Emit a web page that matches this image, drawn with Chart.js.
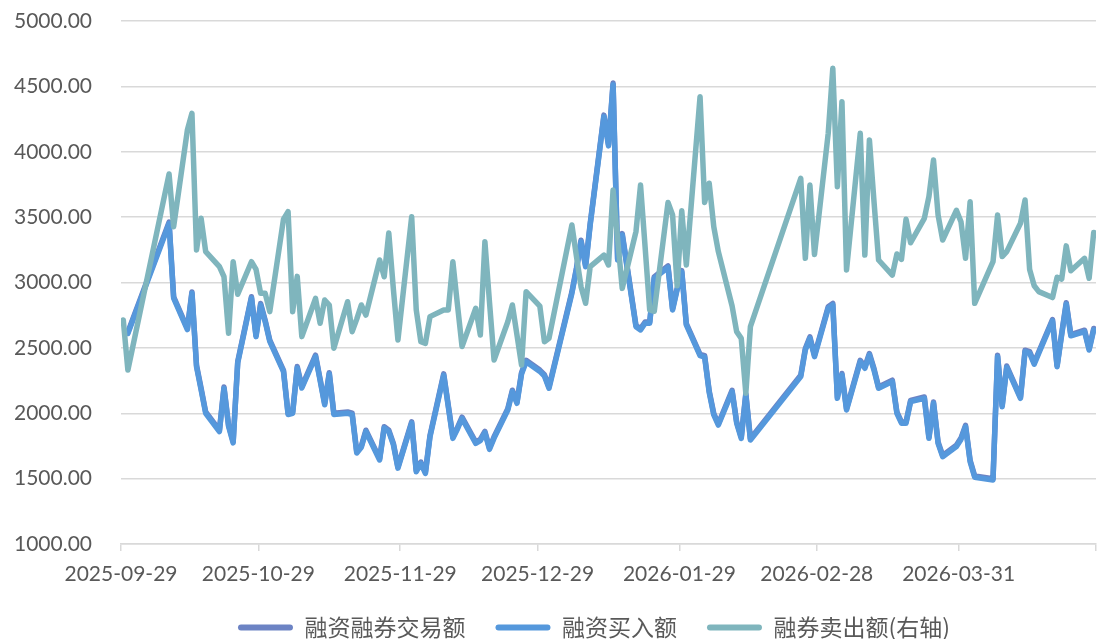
<!DOCTYPE html>
<html>
<head>
<meta charset="utf-8">
<script src="https://cdn.jsdelivr.net/npm/chart.js@4.4.1/dist/chart.umd.min.js"></script>
<style>
  html, body { margin: 0; padding: 0; background: #fff; overflow: hidden; }
</style>
</head>
<body>
<canvas id="myChart" width="1097" height="649"></canvas>
<script>
// trading days
var dates = [
  "2025-09-29", "2025-09-30",
  "2025-10-09", "2025-10-10", "2025-10-13", "2025-10-14", "2025-10-15", "2025-10-16", "2025-10-17", "2025-10-20", "2025-10-21", "2025-10-22", "2025-10-23", "2025-10-24", "2025-10-27", "2025-10-28", "2025-10-29", "2025-10-30", "2025-10-31",
  "2025-11-03", "2025-11-04", "2025-11-05", "2025-11-06", "2025-11-07", "2025-11-10", "2025-11-11", "2025-11-12", "2025-11-13", "2025-11-14", "2025-11-17", "2025-11-18", "2025-11-19", "2025-11-20", "2025-11-21", "2025-11-24", "2025-11-25", "2025-11-26", "2025-11-27", "2025-11-28",
  "2025-12-01", "2025-12-02", "2025-12-03", "2025-12-04", "2025-12-05", "2025-12-08", "2025-12-09", "2025-12-10", "2025-12-11", "2025-12-12", "2025-12-15", "2025-12-16", "2025-12-17", "2025-12-18", "2025-12-19", "2025-12-22", "2025-12-23", "2025-12-24", "2025-12-25", "2025-12-26", "2025-12-29", "2025-12-30", "2025-12-31",
  "2026-01-05", "2026-01-06", "2026-01-07", "2026-01-08", "2026-01-09", "2026-01-12", "2026-01-13", "2026-01-14", "2026-01-15", "2026-01-16", "2026-01-19", "2026-01-20", "2026-01-21", "2026-01-22", "2026-01-23", "2026-01-26", "2026-01-27", "2026-01-28", "2026-01-29", "2026-01-30",
  "2026-02-02", "2026-02-03", "2026-02-04", "2026-02-05", "2026-02-06", "2026-02-09", "2026-02-10", "2026-02-11", "2026-02-12", "2026-02-13", "2026-02-24", "2026-02-25", "2026-02-26", "2026-02-27",
  "2026-03-02", "2026-03-03", "2026-03-04", "2026-03-05", "2026-03-06", "2026-03-09", "2026-03-10", "2026-03-11", "2026-03-12", "2026-03-13", "2026-03-16", "2026-03-17", "2026-03-18", "2026-03-19", "2026-03-20", "2026-03-23", "2026-03-24", "2026-03-25", "2026-03-26", "2026-03-27", "2026-03-30", "2026-03-31",
  "2026-04-01", "2026-04-02", "2026-04-03", "2026-04-07", "2026-04-08", "2026-04-09", "2026-04-10", "2026-04-13", "2026-04-14", "2026-04-15", "2026-04-16", "2026-04-17", "2026-04-20", "2026-04-21", "2026-04-22", "2026-04-23", "2026-04-24", "2026-04-27", "2026-04-28", "2026-04-29"
];

var totalValues = [
  null, 2620,
  3462, 2890, 2650, 2928, 2366, 2190, 2010, 1870, 2200, 1910, 1783, 2395, 2891, 2596, 2839, 2710, 2560,
  2328, 2000, 2010, 2357, 2203, 2444, 2260, 2075, 2310, 2000, 2010, 2000, 1706, 1750, 1870, 1653, 1897, 1870, 1770, 1590,
  1934, 1563, 1627, 1550, 1830, 2301, 2060, 1818, 1890, 1970, 1780, 1800, 1861, 1734, 1820, 2035, 2176, 2086, 2310, 2405, 2330, 2295, 2201,
  2928, 3111, 3323, 3132, 3451, 4280, 4056, 4525, 3183, 3374, 2672, 2647, 2698, 2698, 3043, 3127, 2800, 2956, 3091, 2685,
  2450, 2440, 2170, 1997, 1920, 2175, 1934, 1818, 2150, 1806, 2291, 2495, 2584, 2444,
  2815, 2840, 2124, 2304, 2035, 2405, 2355, 2457, 2341, 2201, 2253, 2010, 1934, 1934, 2099, 2124, 1818, 2086, 1780, 1678, 1755, 1810,
  1907, 1640, 1520, 1500, 2444, 2060, 2361, 2124, 2482, 2471, 2387, 2470, 2717, 2366, 2610, 2845, 2602, 2635, 2494, 2648
];

var buyValues = [
  null, 2610,
  3450, 2880, 2640, 2917, 2356, 2180, 2000, 1860, 2190, 1900, 1773, 2385, 2880, 2586, 2828, 2700, 2550,
  2318, 1990, 2000, 2346, 2193, 2433, 2250, 2065, 2300, 1990, 2000, 1990, 1696, 1740, 1860, 1643, 1887, 1860, 1760, 1580,
  1924, 1553, 1617, 1540, 1820, 2290, 2050, 1808, 1880, 1960, 1770, 1790, 1851, 1724, 1810, 2025, 2165, 2076, 2300, 2394, 2320, 2285, 2191,
  2917, 3100, 3312, 3121, 3440, 4268, 4045, 4513, 3172, 3363, 2662, 2637, 2688, 2688, 3032, 3116, 2790, 2945, 3080, 2675,
  2440, 2430, 2160, 1987, 1910, 2165, 1924, 1808, 2140, 1796, 2280, 2484, 2573, 2433,
  2803, 2828, 2114, 2293, 2025, 2394, 2344, 2446, 2330, 2191, 2242, 2000, 1924, 1924, 2089, 2114, 1808, 2076, 1770, 1668, 1745, 1800,
  1897, 1630, 1510, 1490, 2433, 2050, 2350, 2114, 2471, 2460, 2376, 2460, 2706, 2356, 2600, 2834, 2592, 2624, 2484, 2637
];

var sellValues = [
  2713, 2330,
  3830, 3427, 4166, 4294, 3249, 3491, 3236, 3121, 3044, 2611, 3159, 2910, 3159, 3100, 2917, 2917, 2777,
  3485, 3542, 2777, 3047, 2586, 2878, 2688, 2866, 2828, 2497, 2853, 2624, 2720, 2828, 2751, 3172, 3044, 3378, 2950, 2560,
  3503, 2790, 2547, 2535, 2739, 2790, 2790, 3159, 2830, 2510, 2803, 2598, 3312, 2850, 2407, 2700, 2828, 2600, 2369, 2930, 2820, 2547, 2573,
  3440, 3200, 2968, 2841, 3121, 3210, 3134, 3708, 3330, 2955, 3389, 3745, 3270, 2790, 2780, 3612, 3516, 2975, 3548, 3134,
  4421, 3612, 3759, 3427, 3236, 2820, 2624, 2573, 2153, 2662, 3797, 3185, 3745, 3214,
  4141, 4638, 3733, 4383, 3096, 4141, 3210, 4090, 3620, 3172, 3057, 3218, 3177, 3483, 3304, 3491, 3657, 3937, 3516, 3325, 3552, 3465,
  3185, 3618, 2841, 3159, 3516, 3198, 3236, 3453, 3631, 3100, 2975, 2930, 2885, 3040, 3026, 3280, 3090, 3185, 3032, 3383
];

var tickLabels = ["2025-09-29", "2025-10-29", "2025-11-29", "2025-12-29", "2026-01-29", "2026-02-28", "2026-03-31"];
var axisEnd = "2026-04-30";
var seriesNames = ["融资融券交易额", "融资买入额", "融券卖出额(右轴)"];
var lineColors = ["#6c83c4", "#5598dc", "#7fb5bd"];

function dayOf(s) {
  return (Date.parse(s) - Date.parse(tickLabels[0])) / 86400000;
}
// points sit in the middle of their day
function toPoints(vals) {
  return dates.map(function (d, i) { return {x: dayOf(d) + 0.5, y: vals[i]}; });
}

// nudge legend to the right like the original
var legendShift = {
  id: "legendShift",
  afterLayout: function (chart) {
    chart.legend.left += 46;
    chart.legend.right += 46;
  }
};

Chart.defaults.font.family = "Lato";
Chart.defaults.color = "#595959";

new Chart("myChart", {
  type: "line",
  data: {
    datasets: [
      {label: seriesNames[0], data: toPoints(totalValues), borderColor: lineColors[0], backgroundColor: lineColors[0], order: 3, yAxisID: "y"},
      {label: seriesNames[1], data: toPoints(buyValues), borderColor: lineColors[1], backgroundColor: lineColors[1], order: 2, yAxisID: "y"},
      {label: seriesNames[2], data: toPoints(sellValues), borderColor: lineColors[2], backgroundColor: lineColors[2], order: 1, yAxisID: "y2"}
    ]
  },
  options: {
    responsive: false,
    animation: false,
    devicePixelRatio: 1,
    layout: {padding: {left: 0, right: 1, top: 0, bottom: 0}},
    elements: {
      line: {borderWidth: 5.5, tension: 0, borderJoinStyle: "round", borderCapStyle: "round"},
      point: {radius: 0}
    },
    scales: {
      x: {
        type: "linear",
        min: 0,
        max: dayOf(axisEnd),
        afterBuildTicks: function (scale) {
          scale.ticks = tickLabels.map(function (t) { return {value: dayOf(t)}; }).concat([{value: dayOf(axisEnd)}]);
        },
        afterFit: function (scale) {
          scale.height = 42;
          scale.paddingLeft = 0;
          scale.paddingRight = 0;
        },
        grid: {drawOnChartArea: false, color: "#d9d9d9", lineWidth: 1.5, tickLength: 7},
        border: {color: "#d9d9d9", width: 1.5},
        ticks: {
          autoSkip: false,
          maxRotation: 0,
          padding: 11,
          font: {size: 21},
          callback: function (v, i) { return i < tickLabels.length ? tickLabels[i] : ""; }
        }
      },
      y: {
        min: 1000,
        max: 5000,
        afterFit: function (scale) {
          scale.width = 121;
          scale.paddingTop = 21;
        },
        grid: {color: "#d9d9d9", lineWidth: 1.5, drawTicks: false},
        border: {display: false},
        ticks: {
          stepSize: 500,
          padding: 29,
          font: {size: 21},
          callback: function (v) { return v.toFixed(2); }
        }
      },
      y2: {display: false, position: "right", min: 1000, max: 5000}
    },
    plugins: {
      tooltip: {enabled: false},
      legend: {
        position: "bottom",
        labels: {
          boxWidth: 55,
          boxHeight: 6,
          useBorderRadius: true,
          borderRadius: 3,
          padding: 30,
          color: "#595959",
          font: {family: "Noto Sans CJK SC", size: 23},
          generateLabels: function (chart) {
            var items = Chart.defaults.plugins.legend.labels.generateLabels(chart);
            items.forEach(function (it) { it.lineWidth = 0; });
            return items;
          },
          sort: function (a, b) { return a.datasetIndex - b.datasetIndex; }
        }
      }
    }
  },
  plugins: [legendShift]
});
</script>
</body>
</html>
